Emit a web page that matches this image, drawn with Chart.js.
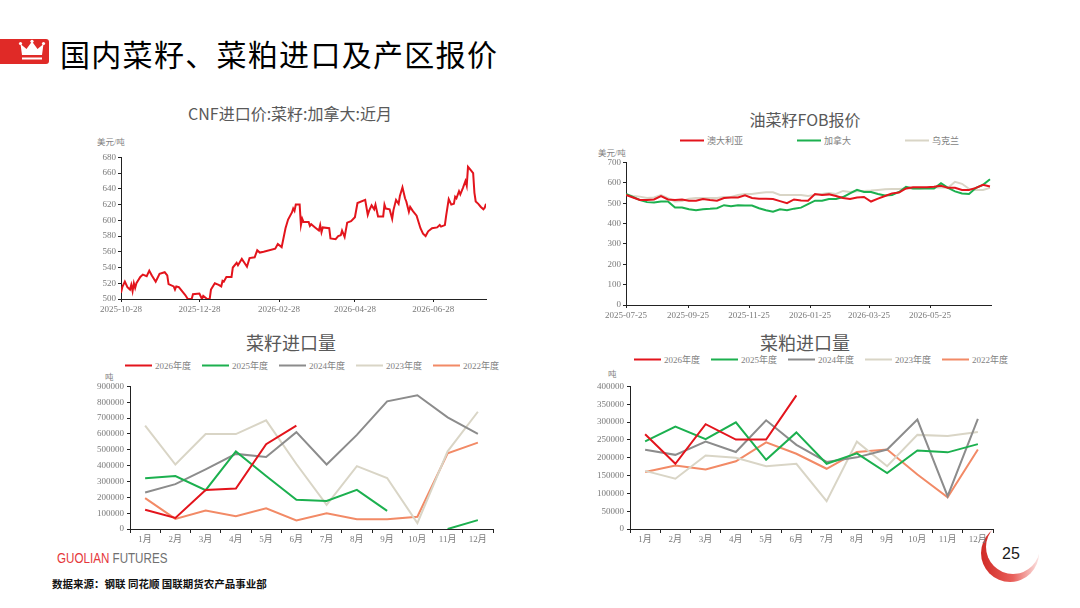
<!DOCTYPE html>
<html>
<head>
<meta charset="utf-8">
<script src="https://cdn.jsdelivr.net/npm/chart.js@4.4.1/dist/chart.umd.min.js"></script>
<style>
html, body { margin: 0; padding: 0; background: #fff; }
body { width: 1080px; height: 608px; position: relative; overflow: hidden;
       font-family: "Noto Sans CJK SC", "Noto Sans", sans-serif; }
.abs { position: absolute; white-space: nowrap; }
.c { transform: translate(-50%, -50%); }
.l { transform: translateY(-50%); }
.page-title { font-size: 30px; color: #000; letter-spacing: 1.3px; left: 60px; top: 53px; }
.ctitle { font-size: 16px; color: #595959; }
.unit { font-size: 8.5px; color: #7f7f7f; font-family: "Liberation Serif", "Noto Sans CJK SC", serif; }
.legend { display: flex; align-items: center; font-size: 9px; color: #7f7f7f;
          font-family: "Liberation Serif", "Noto Sans CJK SC", serif; }
.legend .item { display: flex; align-items: center; }
.legend .swatch { height: 2px; margin-right: 3px; }
.legend.years .item { width: 77px; }
.legend.years .swatch { width: 27px; }
.legend.fob .item { margin-right: 54px; }
.legend.fob .swatch { width: 24px; }
canvas { position: absolute; }
.brand { left: 57px; top: 558px; font-family: "Liberation Sans", sans-serif; font-size: 14px; color: #707070;
         transform: translateY(-50%) scaleX(0.83); transform-origin: left center; }
.brand b { color: #e5383b; font-weight: normal; }
.source { left: 52px; top: 583px; font-size: 10.5px; font-weight: bold; color: #111; }
.pageno { left: 1011px; top: 554px; font-family: "Liberation Sans", sans-serif; font-size: 16px; color: #1a1a1a; }
</style>
</head>
<body>

<!-- page badge, drawn first so the charts sit above it -->
<div class="abs" style="left:981px;top:524px;width:58px;height:58px;border-radius:50%;background:linear-gradient(to left,#fbe4e3 0%,#e9605b 45%,#d02a25 100%)"></div>
<div class="abs" style="left:986px;top:520px;width:54px;height:54px;border-radius:50%;background:#fff"></div>
<div class="abs c pageno">25</div>

<svg class="abs" style="left:0;top:39px" width="49" height="25">
  <rect x="-4" y="0" width="53" height="25" rx="3" fill="#e02a27"/>
  <path d="M22 16 L20.5 5 L26.5 10 L32 2.5 L37.5 10 L43.5 5 L42 16 Z" fill="#fff"/>
  <circle cx="20.5" cy="4.5" r="1.6" fill="#fff"/>
  <circle cx="32" cy="2.3" r="1.6" fill="#fff"/>
  <circle cx="43.5" cy="4.5" r="1.6" fill="#fff"/>
  <rect x="22" y="18.5" width="20" height="2" fill="#fff"/>
</svg>
<div class="abs l page-title">国内菜籽、菜粕进口及产区报价</div>

<div class="abs c ctitle" style="left:290px;top:113px">CNF进口价:菜籽:加拿大:近月</div>
<div class="abs l unit" style="left:97px;top:141px">美元/吨</div>
<canvas id="cnf" width="413" height="169" style="left:81px;top:150px"></canvas>

<div class="abs c ctitle" style="left:805px;top:119px">油菜籽FOB报价</div>
<div class="abs l legend fob" id="fobLegend" style="left:680px;top:140px"></div>
<div class="abs l unit" style="left:598px;top:152px">美元/吨</div>
<canvas id="fob" width="410" height="170" style="left:590px;top:155px"></canvas>

<div class="abs c ctitle" style="left:291px;top:342px;font-size:18px">菜籽进口量</div>
<div class="abs l legend years" id="seedLegend" style="left:125px;top:365px"></div>
<div class="abs l unit" style="left:105px;top:376px">吨</div>
<canvas id="seed" width="415" height="170" style="left:85px;top:378px"></canvas>

<div class="abs c ctitle" style="left:805px;top:342px;font-size:18px">菜粕进口量</div>
<div class="abs l legend years" id="mealLegend" style="left:634px;top:359px"></div>
<div class="abs l unit" style="left:608px;top:373px">吨</div>
<canvas id="meal" width="415" height="170" style="left:585px;top:378px"></canvas>

<div class="abs brand"><b>GUOLIAN</b> FUTURES</div>
<div class="abs l source">数据来源：钢联 同花顺 国联期货农产品事业部</div>

<script>
// --- DATA ---
// CNF import price, Canadian rapeseed, nearby (USD/t)
const cnfDates = [
  '2025-10-28','2025-10-29','2025-10-31','2025-11-02','2025-11-04','2025-11-05','2025-11-06','2025-11-07',
  '2025-11-08','2025-11-09','2025-11-12','2025-11-14','2025-11-17','2025-11-19','2025-11-21','2025-11-24',
  '2025-11-27','2025-12-01','2025-12-03','2025-12-04','2025-12-08','2025-12-09','2025-12-10','2025-12-12',
  '2025-12-17','2025-12-19','2025-12-21','2025-12-22','2025-12-23','2025-12-28','2025-12-30','2025-12-31',
  '2026-01-03','2026-01-05','2026-01-06','2026-01-09','2026-01-12','2026-01-14','2026-01-15','2026-01-16',
  '2026-01-18','2026-01-22','2026-01-23','2026-01-26','2026-01-27','2026-01-30','2026-02-01','2026-02-03',
  '2026-02-05','2026-02-09','2026-02-11','2026-02-13','2026-02-16','2026-02-25','2026-02-27','2026-03-02',
  '2026-03-05','2026-03-07','2026-03-10','2026-03-11','2026-03-12','2026-03-13','2026-03-16','2026-03-17',
  '2026-03-18','2026-03-19','2026-03-23','2026-03-24','2026-03-25','2026-03-28','2026-03-31','2026-04-01',
  '2026-04-02','2026-04-03','2026-04-08','2026-04-09','2026-04-13','2026-04-15','2026-04-17','2026-04-18',
  '2026-04-20','2026-04-22','2026-04-25','2026-04-28','2026-04-30','2026-05-06','2026-05-08','2026-05-09',
  '2026-05-11','2026-05-13','2026-05-14','2026-05-16','2026-05-20','2026-05-21','2026-05-22','2026-05-25',
  '2026-05-27','2026-05-28','2026-05-30','2026-06-01','2026-06-02','2026-06-04','2026-06-06','2026-06-07',
  '2026-06-09','2026-06-10','2026-06-12','2026-06-15','2026-06-18','2026-06-20','2026-06-22','2026-06-24',
  '2026-06-27','2026-07-01','2026-07-03','2026-07-04','2026-07-07','2026-07-08','2026-07-10','2026-07-12',
  '2026-07-14','2026-07-15','2026-07-16','2026-07-18','2026-07-19','2026-07-21','2026-07-23','2026-07-24',
  '2026-07-25','2026-07-27','2026-07-29','2026-07-30','2026-07-31','2026-08-02','2026-08-04','2026-08-06',
  '2026-08-07','2026-08-08'
];
const cnfValues = [
  508, 515, 522, 515, 512, 518, 510, 520,
  514, 520, 528, 531, 529, 536, 530, 522,
  532, 534, 530, 519, 516, 512, 516, 515,
  505, 500, 500, 500, 506, 507, 500, 504,
  500, 500, 512, 520, 518, 516, 523, 522,
  528, 528, 540, 546, 543, 551, 546, 541,
  552, 553, 562, 559, 560, 564, 570, 566,
  590, 601, 610, 615, 612, 620, 620, 594,
  602, 598, 598, 593, 595, 591, 587, 594,
  585, 591, 590, 577, 576, 580, 581, 587,
  579, 597, 599, 604, 622, 626, 607, 612,
  619, 614, 620, 605, 605, 620, 615, 614,
  602, 613, 626, 621, 631, 642, 628, 624,
  611, 617, 612, 606, 590, 583, 580, 586,
  590, 591, 594, 592, 594, 606, 627, 620,
  621, 630, 628, 637, 633, 641, 650, 644,
  668, 664, 660, 635, 624, 621, 617, 614,
  616, 621
];
const cnfTicks = ['2025-10-28', '2025-12-28', '2026-02-28', '2026-04-28', '2026-06-28'];
const cnfRange = ['2025-10-28', '2026-08-08'];

// Rapeseed FOB quotes (USD/t), weekly
const fobDates = [
  '2025-07-25','2025-08-01','2025-08-08','2025-08-15','2025-08-22','2025-08-29','2025-09-05','2025-09-12',
  '2025-09-19','2025-09-26','2025-10-03','2025-10-10','2025-10-17','2025-10-24','2025-10-31','2025-11-07',
  '2025-11-14','2025-11-21','2025-11-28','2025-12-05','2025-12-12','2025-12-19','2025-12-26','2026-01-02',
  '2026-01-09','2026-01-16','2026-01-23','2026-01-30','2026-02-06','2026-02-13','2026-02-20','2026-02-27',
  '2026-03-06','2026-03-13','2026-03-20','2026-03-27','2026-04-03','2026-04-10','2026-04-17','2026-04-24',
  '2026-05-01','2026-05-08','2026-05-15','2026-05-22','2026-05-29','2026-06-05','2026-06-12','2026-06-19',
  '2026-06-26','2026-07-03','2026-07-10','2026-07-17','2026-07-24'
];
const fobNames = ['澳大利亚', '加拿大', '乌克兰'];
const fobAustralia = [540,528,516,515,518,535,518,515,518,512,512,520,515,512,525,528,528,538,525,522,522,520,510,500,518,513,512,545,540,543,535,525,520,528,530,508,522,535,548,552,572,578,578,578,580,585,575,575,565,565,575,590,582];
const fobCanada    = [545,530,515,505,503,508,508,478,478,470,465,470,472,475,490,485,490,488,488,475,465,458,470,465,473,478,495,512,512,520,520,530,548,565,555,555,545,538,540,555,580,572,572,572,572,598,575,558,547,545,575,590,617];
const fobUkraine   = [540,535,532,525,528,540,525,508,510,522,525,525,525,525,530,530,540,545,545,550,553,553,540,540,540,540,535,540,545,550,545,560,555,558,560,562,565,568,570,570,572,572,572,575,575,578,575,605,595,570,565,565,575];
const fobTicks = ['2025-07-25', '2025-09-25', '2025-11-25', '2026-01-25', '2026-03-25', '2026-05-25'];
const fobRange = ['2025-07-25', '2026-07-25'];

// Monthly imports (t)
const months = ['1月','2月','3月','4月','5月','6月','7月','8月','9月','10月','11月','12月'];
const years = ['2026年度', '2025年度', '2024年度', '2023年度', '2022年度'];

const seed2026 = [122000, 70000, 246000, 255000, 535000, 652000];
const seed2025 = [320000, 334000, 245000, 490000, 335000, 185000, 177000, 247000, 114000, null, 0, 56000];
const seed2024 = [230000, 283000, 376000, 474000, 455000, 611000, 407000, 594000, 806000, 844000, 705000, 601000];
const seed2023 = [653000, 407000, 599000, 599000, 686000, 410000, 152000, 397000, 322000, 37000, 490000, 740000];
const seed2022 = [195000, 64000, 116000, 81000, 131000, 54000, 100000, 62000, 62000, 77000, 478000, 545000];

const meal2026 = [266000, 183000, 294000, 251000, 251000, 375000];
const meal2025 = [246000, 287000, 252000, 299000, 194000, 271000, 183000, 212000, 157000, 220000, 215000, 238000];
const meal2024 = [222000, 208000, 245000, 216000, 305000, 236000, 188000, 201000, 223000, 307000, 92000, 309000];
const meal2023 = [163000, 141000, 206000, 200000, 176000, 183000, 78000, 245000, 176000, 264000, 261000, 272000];
const meal2022 = [160000, 178000, 167000, 190000, 243000, 211000, 169000, 216000, 223000, 153000, 89000, 223000];

// --- STYLE ---
const red = '#e3141c', green = '#1cb04f', grey = '#8c8c8c', beige = '#d9d5c6', salmon = '#f28a66';
const yearColors = [red, green, grey, beige, salmon];
const axisColor = '#222';
const tickColor = '#7a7a7a';
const tickFont = { family: '"Liberation Serif", "DejaVu Serif", "Noto Sans CJK SC", serif', size: 9 };

Chart.defaults.animation = false;
Chart.defaults.plugins.legend.display = false;
Chart.defaults.plugins.tooltip.enabled = false;

const dayNum = s => Date.UTC(+s.slice(0, 4), +s.slice(5, 7) - 1, +s.slice(8, 10)) / 864e5;
const toPoints = (dates, vals) => dates.map((d, i) => ({ x: dayNum(d), y: vals[i] }));

function yAxis(min, max, step, width, pad) {
    return {
        min: min, max: max,
        ticks: { stepSize: step, padding: pad, color: tickColor, font: tickFont, callback: v => String(v) },
        grid: { drawOnChartArea: false, tickLength: 3, color: axisColor },
        border: { color: axisColor, width: 1 },
        afterFit: s => { s.width = width; }
    };
}

function dateAxis(range, labels) {
    return {
        type: 'linear',
        min: dayNum(range[0]), max: dayNum(range[1]),
        afterBuildTicks: s => { s.ticks = labels.map(t => ({ value: dayNum(t) })); },
        ticks: { autoSkip: false, maxRotation: 0, padding: 2, color: tickColor, font: tickFont,
                 callback: (v, i) => labels[i] },
        grid: { drawOnChartArea: false, tickLength: 3, color: axisColor },
        border: { color: axisColor, width: 1 },
        afterFit: s => { s.height = 20; }
    };
}

function monthAxis() {
    return {
        type: 'category', offset: true,
        ticks: { autoSkip: false, maxRotation: 0, padding: 1, color: tickColor, font: tickFont },
        grid: { offset: true, drawOnChartArea: false, tickLength: 4, color: axisColor },
        border: { color: axisColor, width: 1 },
        afterFit: s => { s.height = 19; }
    };
}

function lineSet(label, data, color) {
    return { label: label, data: data, borderColor: color, backgroundColor: color,
             borderWidth: 2, pointRadius: 0, tension: 0, spanGaps: false };
}

function baseOptions(padRight, x, y) {
    return {
        responsive: false,
        layout: { padding: { top: 6, right: padRight, left: 0, bottom: 0 } },
        scales: { x: x, y: y }
    };
}

// html legend built from the chart's own datasets
function buildLegend(chart, id) {
    const box = document.getElementById(id);
    chart.data.datasets.forEach(ds => {
        const item = document.createElement('span');
        item.className = 'item';
        const sw = document.createElement('span');
        sw.className = 'swatch';
        sw.style.background = ds.borderColor;
        const tx = document.createElement('span');
        tx.textContent = ds.label;
        item.append(sw, tx);
        box.append(item);
    });
}

// --- CHARTS ---
new Chart(document.getElementById('cnf'), {
    type: 'line',
    data: { datasets: [lineSet('CNF进口价', toPoints(cnfDates, cnfValues), red)] },
    options: baseOptions(8, dateAxis(cnfRange, cnfTicks), yAxis(500, 680, 20, 40, 2))
});

const fobChart = new Chart(document.getElementById('fob'), {
    type: 'line',
    data: { datasets: [
        lineSet(fobNames[0], toPoints(fobDates, fobAustralia), red),
        lineSet(fobNames[1], toPoints(fobDates, fobCanada), green),
        lineSet(fobNames[2], toPoints(fobDates, fobUkraine), beige)
    ] },
    options: baseOptions(9, dateAxis(fobRange, fobTicks), yAxis(0, 700, 100, 36, 2))
});
buildLegend(fobChart, 'fobLegend');

const seedSeries = [seed2026, seed2025, seed2024, seed2023, seed2022];
const seedChart = new Chart(document.getElementById('seed'), {
    type: 'line',
    data: { labels: months, datasets: seedSeries.map((s, i) => lineSet(years[i], s, yearColors[i])) },
    options: baseOptions(7, monthAxis(), yAxis(0, 900000, 100000, 45, 3))
});
buildLegend(seedChart, 'seedLegend');

const mealSeries = [meal2026, meal2025, meal2024, meal2023, meal2022];
const mealChart = new Chart(document.getElementById('meal'), {
    type: 'line',
    data: { labels: months, datasets: mealSeries.map((s, i) => lineSet(years[i], s, yearColors[i])) },
    options: baseOptions(7, monthAxis(), yAxis(0, 400000, 50000, 45, 3))
});
buildLegend(mealChart, 'mealLegend');
</script>
</body>
</html>
